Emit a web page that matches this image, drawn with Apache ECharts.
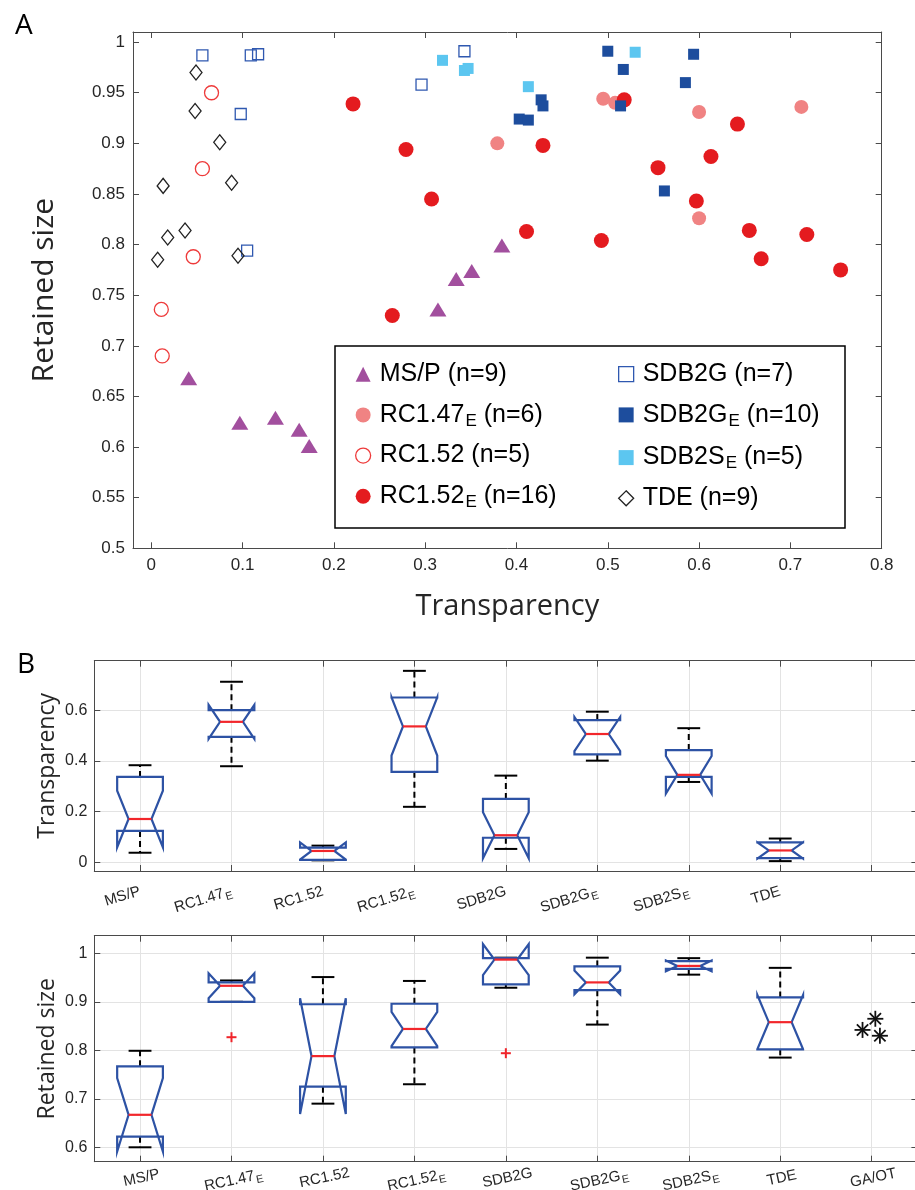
<!DOCTYPE html>
<html>
<head>
<meta charset="utf-8">
<script src="https://cdn.jsdelivr.net/npm/echarts@6/dist/echarts.min.js"></script>
<style>
  html, body { margin: 0; padding: 0; background: #fff; }
  #chart { width: 915px; height: 1190px; }
</style>
</head>
<body>
<div id="chart"></div>
<script>
// ---- Panel A: [transparency, retained size] for each group ----
const msP = [[0.041,0.668],[0.097,0.624],[0.136,0.629],[0.162,0.617],[0.173,0.601],[0.314,0.736],[0.334,0.766],[0.351,0.774],[0.384,0.799]];
const rc147E = [[0.379,0.900],[0.495,0.944],[0.508,0.940],[0.600,0.931],[0.712,0.936],[0.600,0.826]];
const rc152 = [[0.066,0.950],[0.056,0.875],[0.046,0.788],[0.011,0.736],[0.012,0.690]];
const rc152E = [[0.221,0.939],[0.279,0.894],[0.307,0.845],[0.264,0.730],[0.411,0.813],[0.429,0.898],[0.493,0.804],[0.518,0.943],[0.555,0.876],[0.597,0.843],[0.613,0.887],[0.642,0.919],[0.655,0.814],[0.668,0.786],[0.718,0.810],[0.755,0.775]];
const sdb2G = [[0.056,0.987],[0.109,0.987],[0.117,0.988],[0.098,0.929],[0.105,0.794],[0.296,0.958],[0.343,0.991]];
const sdb2GE = [[0.403,0.924],[0.413,0.923],[0.427,0.943],[0.429,0.937],[0.500,0.991],[0.514,0.937],[0.517,0.973],[0.562,0.853],[0.585,0.960],[0.594,0.988]];
const sdb2SE = [[0.319,0.982],[0.343,0.972],[0.347,0.974],[0.413,0.956],[0.530,0.990]];
const tde = [[0.007,0.785],[0.013,0.858],[0.018,0.807],[0.037,0.814],[0.048,0.932],[0.049,0.970],[0.075,0.901],[0.088,0.861],[0.095,0.789]];

// ---- Panel B: notched box plots ----
const boxCategories = ['MS/P','RC1.47E','RC1.52','RC1.52E','SDB2G','SDB2GE','SDB2SE','TDE','GA/OT'];
const subscriptE = ['RC1.47E','RC1.52E','SDB2GE','SDB2SE'];
const groupSizes = [9, 6, 5, 16, 7, 10, 5, 9];
// [lower whisker, Q1, median, Q3, upper whisker]
const transparencyBoxes = [
  [0.038, 0.124, 0.171, 0.337, 0.383],
  [0.379, 0.495, 0.554, 0.600, 0.712],
  [0.008, 0.010, 0.045, 0.058, 0.066],
  [0.219, 0.357, 0.536, 0.650, 0.755],
  [0.053, 0.097, 0.107, 0.250, 0.342],
  [0.401, 0.426, 0.506, 0.561, 0.594],
  [0.317, 0.337, 0.345, 0.4425, 0.529],
  [0.005, 0.017, 0.047, 0.0785, 0.094]
];
const retainedBoxes = [
  [0.600, 0.622, 0.667, 0.767, 0.799],
  [0.900, 0.900, 0.933, 0.940, 0.944],
  [0.690, 0.725, 0.788, 0.895, 0.951],
  [0.730, 0.806, 0.844, 0.896, 0.943],
  [0.929, 0.936, 0.987, 0.990, 0.991],
  [0.853, 0.924, 0.940, 0.973, 0.991],
  [0.956, 0.968, 0.974, 0.984, 0.990],
  [0.785, 0.802, 0.858, 0.909, 0.970]
];
// [category position, value]
const retainedOutliers = [[2, 0.827], [5, 0.794]];
const gaOtRetained = [[8.90, 0.842], [9.04, 0.865], [9.09, 0.830]];

const TXT = '#262626';
const AXIS = '#4a4a4a';
const SANS = 'Liberation Sans';
const TITLE_FONT = 'Open Sans';

function baseName(name) { return subscriptE.includes(name) ? name.slice(0, -1) : name; }
function richName(name, main, sub) {
  return '{' + main + '|' + baseName(name) + '}' + (subscriptE.includes(name) ? '{' + sub + '|E}' : '');
}
function stepFormatter(step) {
  return function (v) {
    const k = Math.round(v / step);
    if (Math.abs(v - k * step) > 1e-7) return '';
    return String(+(k * step).toFixed(3));
  };
}
function catFormatter(count) {
  return function (v) {
    const i = Math.round(v);
    if (Math.abs(v - i) > 1e-6 || i < 1 || i > count) return '';
    return richName(boxCategories[i - 1], 'c', 'cs');
  };
}

// Notched box (MATLAB style outline) with dashed whiskers and red median
function renderBox(params, api) {
  const c = api.value(0), wl = api.value(1), q1 = api.value(2), md = api.value(3),
        q3 = api.value(4), wh = api.value(5), n = api.value(6);
  const notch = 1.57 * (q3 - q1) / Math.sqrt(n);
  const lo = md - notch, hi = md + notch;
  const P = (dx, v) => api.coord([c + dx, v]);
  const hw = 0.25, nw = 0.125, cw = 0.125;
  const outline = [P(-hw, q1), P(-hw, lo), P(-nw, md), P(-hw, hi), P(-hw, q3),
                   P(hw, q3), P(hw, hi), P(nw, md), P(hw, lo), P(hw, q1)];
  const seg = (a, b, style) => ({ type: 'line', shape: { x1: a[0], y1: a[1], x2: b[0], y2: b[1] }, style: style });
  const whisk = { stroke: '#000', lineWidth: 2, lineDash: [6, 4] };
  const cap = { stroke: '#000', lineWidth: 2 };
  return {
    type: 'group',
    children: [
      seg(P(0, q3), P(0, wh), whisk),
      seg(P(0, q1), P(0, wl), whisk),
      seg(P(-cw, wh), P(cw, wh), cap),
      seg(P(-cw, wl), P(cw, wl), cap),
      { type: 'polygon', shape: { points: outline }, style: { fill: 'none', stroke: '#2D52A4', lineWidth: 2.2, lineJoin: 'miter' } },
      seg(P(-nw, md), P(nw, md), { stroke: '#F2262B', lineWidth: 2.2 })
    ]
  };
}
function renderPlus(params, api) {
  const p = api.coord([api.value(0), api.value(1)]);
  const h = 5;
  return { type: 'group', children: [
    { type: 'line', shape: { x1: p[0] - h, y1: p[1], x2: p[0] + h, y2: p[1] }, style: { stroke: '#F0242A', lineWidth: 2 } },
    { type: 'line', shape: { x1: p[0], y1: p[1] - h, x2: p[0], y2: p[1] + h }, style: { stroke: '#F0242A', lineWidth: 2 } }
  ] };
}
function renderStar(params, api) {
  const p = api.coord([api.value(0), api.value(1)]);
  const h = 8, d = h * 0.707;
  const st = { stroke: '#111', lineWidth: 1.8 };
  return { type: 'group', children: [
    { type: 'line', shape: { x1: p[0] - h, y1: p[1], x2: p[0] + h, y2: p[1] }, style: st },
    { type: 'line', shape: { x1: p[0], y1: p[1] - h, x2: p[0], y2: p[1] + h }, style: st },
    { type: 'line', shape: { x1: p[0] - d, y1: p[1] - d, x2: p[0] + d, y2: p[1] + d }, style: st },
    { type: 'line', shape: { x1: p[0] - d, y1: p[1] + d, x2: p[0] + d, y2: p[1] - d }, style: st }
  ] };
}

const groupData = { 'MS/P': msP, 'RC1.47E': rc147E, 'RC1.52': rc152, 'RC1.52E': rc152E,
                    'SDB2G': sdb2G, 'SDB2GE': sdb2GE, 'SDB2SE': sdb2SE, 'TDE': tde };
const HOLLOW = 'rgba(255,255,255,0)';
const markerStyles = {
  'MS/P':    { symbol: 'triangle', size: [17, 14], style: { color: '#A24F9E' } },
  'RC1.47E': { symbol: 'circle', size: 14, style: { color: '#F08383' } },
  'RC1.52':  { symbol: 'circle', size: 14, style: { color: HOLLOW, borderColor: '#EE3A3A', borderWidth: 1.3 } },
  'RC1.52E': { symbol: 'circle', size: 15, style: { color: '#E41B1F' } },
  'SDB2G':   { symbol: 'rect', size: 11, style: { color: HOLLOW, borderColor: '#2F58B0', borderWidth: 1.3 } },
  'SDB2GE':  { symbol: 'rect', size: 11, style: { color: '#1D4D9D' } },
  'SDB2SE':  { symbol: 'rect', size: 11, style: { color: '#5CC6F0' } },
  'TDE':     { symbol: 'diamond', size: [12, 15], style: { color: HOLLOW, borderColor: '#222', borderWidth: 1.3 } }
};

const scatterSeries = Object.keys(groupData).map(name => ({
  type: 'scatter', name: name, xAxisIndex: 0, yAxisIndex: 0,
  data: groupData[name], symbol: markerStyles[name].symbol, symbolSize: markerStyles[name].size,
  itemStyle: Object.assign({ opacity: 1 }, markerStyles[name].style), emphasis: { disabled: true }
}));

function legendItems(names) {
  return names.map(name => ({
    name: name, icon: markerStyles[name].symbol,
    itemStyle: Object.assign({}, markerStyles[name].style, markerStyles[name].style.color === HOLLOW ? { color: 'rgba(0,0,0,0)' } : {})
  }));
}
const legendRich = {
  t: { fontSize: 25, fontFamily: SANS, color: '#000', lineHeight: 28 },
  s: { fontSize: 17, fontFamily: SANS, color: '#000', lineHeight: 28, padding: [12, 0, 0, 1] }
};
function legendFormatter(name) {
  return richName(name, 't', 's') + '{t| (n=' + groupData[name].length + ')}';
}
function legend(names, left) {
  return {
    data: legendItems(names), orient: 'vertical', left: left, top: 356.7,
    itemWidth: 15, itemHeight: 15, itemGap: 13.7, selectedMode: false,
    formatter: legendFormatter,
    textStyle: { padding: [0, 0, 0, 4], rich: legendRich }
  };
}

const tickInside = { show: true, inside: true, length: 6, lineStyle: { color: AXIS, width: 1 } };
const axLine = { show: true, onZero: false, lineStyle: { color: AXIS, width: 1 } };
const gridLine = { show: true, lineStyle: { color: '#e3e3e3', width: 1 } };
const catRich = {
  c: { fontSize: 15, fontFamily: SANS, color: TXT },
  cs: { fontSize: 11, fontFamily: SANS, color: TXT, padding: [9, 0, 0, 1] }
};
const gridBase = { containLabel: false, outerBoundsMode: 'none' };

const option = {
  animation: false,
  backgroundColor: '#fff',
  title: [
    { text: 'A', left: 10, top: 7, textStyle: { fontFamily: TITLE_FONT, fontSize: 28, fontWeight: 'normal', color: '#000' } },
    { text: 'B', left: 12, top: 646, textStyle: { fontFamily: TITLE_FONT, fontSize: 28, fontWeight: 'normal', color: '#000' } }
  ],
  grid: [
    Object.assign({ left: 133, top: 32, width: 748.7, height: 516.3 }, gridBase),
    Object.assign({ left: 94.3, top: 660.7, width: 823.1, height: 210.3 }, gridBase),
    Object.assign({ left: 94.3, top: 935.7, width: 823.1, height: 226 }, gridBase)
  ],
  xAxis: [
    { gridIndex: 0, type: 'value', min: -0.02, max: 0.8, splitNumber: 8, axisLine: axLine, axisTick: tickInside,
      axisLabel: { fontSize: 17, fontFamily: SANS, color: TXT, margin: 9, formatter: stepFormatter(0.1) },
      splitLine: { show: false },
      name: 'Transparency', nameLocation: 'middle', nameGap: 44,
      nameTextStyle: { fontSize: 29, fontFamily: TITLE_FONT, color: TXT } },
    { gridIndex: 0, type: 'value', position: 'top', min: -0.02, max: 0.8, splitNumber: 8, axisLine: axLine, axisTick: tickInside,
      axisLabel: { show: false }, splitLine: { show: false } },
    { gridIndex: 1, type: 'value', min: 0.5, max: 9.5, splitNumber: 9, axisLine: axLine, axisTick: tickInside,
      axisLabel: { rotate: 17, margin: 20, padding: [0, 0, 0, 6], formatter: catFormatter(8), rich: catRich },
      splitLine: gridLine },
    { gridIndex: 1, type: 'value', position: 'top', min: 0.5, max: 9.5, splitNumber: 9, axisLine: axLine, axisTick: tickInside,
      axisLabel: { show: false }, splitLine: { show: false } },
    { gridIndex: 2, type: 'value', min: 0.5, max: 9.5, splitNumber: 9, axisLine: axLine, axisTick: tickInside,
      axisLabel: { rotate: 12, align: 'center', verticalAlign: 'top', margin: 9, formatter: catFormatter(9), rich: catRich },
      splitLine: gridLine },
    { gridIndex: 2, type: 'value', position: 'top', min: 0.5, max: 9.5, splitNumber: 9, axisLine: axLine, axisTick: tickInside,
      axisLabel: { show: false }, splitLine: { show: false } }
  ],
  yAxis: [
    { gridIndex: 0, type: 'value', min: 0.5, max: 1.01, splitNumber: 10, axisLine: axLine, axisTick: tickInside,
      axisLabel: { fontSize: 17, fontFamily: SANS, color: TXT, margin: 8, formatter: stepFormatter(0.05) },
      splitLine: { show: false },
      name: 'Retained size', nameLocation: 'middle', nameGap: 74, nameRotate: 90,
      nameTextStyle: { fontSize: 30, fontFamily: TITLE_FONT, color: TXT } },
    { gridIndex: 0, type: 'value', position: 'right', min: 0.5, max: 1.01, splitNumber: 10, axisLine: axLine, axisTick: tickInside,
      axisLabel: { show: false }, splitLine: { show: false } },
    { gridIndex: 1, type: 'value', min: -0.034, max: 0.795, splitNumber: 5, axisLine: axLine, axisTick: tickInside,
      axisLabel: { fontSize: 16, fontFamily: SANS, color: TXT, margin: 7, formatter: stepFormatter(0.2) },
      splitLine: gridLine,
      name: 'Transparency', nameLocation: 'middle', nameGap: 35, nameRotate: 90, nameMoveOverlap: false,
      nameTextStyle: { fontSize: 23, fontFamily: TITLE_FONT, color: TXT } },
    { gridIndex: 1, type: 'value', position: 'right', min: -0.034, max: 0.795, splitNumber: 5, axisLine: axLine, axisTick: tickInside,
      axisLabel: { show: false }, splitLine: { show: false } },
    { gridIndex: 2, type: 'value', min: 0.5703, max: 1.0363, splitNumber: 5, axisLine: axLine, axisTick: tickInside,
      axisLabel: { fontSize: 16, fontFamily: SANS, color: TXT, margin: 7, formatter: stepFormatter(0.1) },
      splitLine: gridLine,
      name: 'Retained size', nameLocation: 'middle', nameGap: 35, nameRotate: 90, nameMoveOverlap: false,
      nameTextStyle: { fontSize: 23, fontFamily: TITLE_FONT, color: TXT } },
    { gridIndex: 2, type: 'value', position: 'right', min: 0.5703, max: 1.0363, splitNumber: 5, axisLine: axLine, axisTick: tickInside,
      axisLabel: { show: false }, splitLine: { show: false } }
  ],
  legend: [
    legend(['MS/P', 'RC1.47E', 'RC1.52', 'RC1.52E'], 350),
    legend(['SDB2G', 'SDB2GE', 'SDB2SE', 'TDE'], 613)
  ],
  graphic: [
    { type: 'rect', z: 1, shape: { x: 335, y: 346, width: 510, height: 182 },
      style: { fill: '#fff', stroke: '#000', lineWidth: 1.5 } }
  ],
  series: scatterSeries.concat([
    { type: 'custom', name: 'transparencyBox', xAxisIndex: 2, yAxisIndex: 2, renderItem: renderBox,
      data: transparencyBoxes.map((b, i) => [i + 1].concat(b, [groupSizes[i]])), silent: true },
    { type: 'custom', name: 'retainedBox', xAxisIndex: 4, yAxisIndex: 4, renderItem: renderBox,
      data: retainedBoxes.map((b, i) => [i + 1].concat(b, [groupSizes[i]])), silent: true },
    { type: 'custom', name: 'retainedOutlier', xAxisIndex: 4, yAxisIndex: 4, renderItem: renderPlus,
      data: retainedOutliers, silent: true },
    { type: 'custom', name: 'GA/OT', xAxisIndex: 4, yAxisIndex: 4, renderItem: renderStar,
      data: gaOtRetained, silent: true }
  ])
};

const chart = echarts.init(document.getElementById('chart'), null, { renderer: 'canvas' });
chart.setOption(option);
</script>
</body>
</html>
